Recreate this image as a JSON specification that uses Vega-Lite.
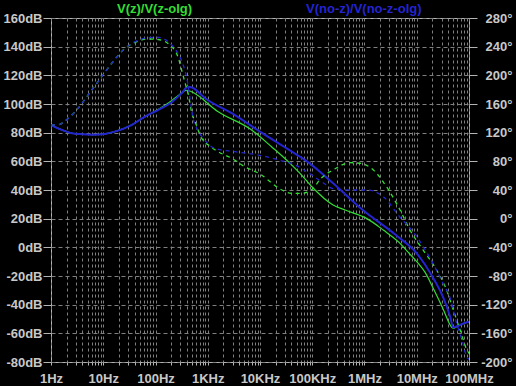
{
  "$schema": "https://vega.github.io/schema/vega-lite/v6.json",
  "width": 418,
  "height": 344,
  "autosize": "none",
  "padding": {"left": 51, "top": 18, "right": 47, "bottom": 24},
  "background": "#000000",
  "config": {
    "view": {"stroke": "#b4b4b4", "strokeWidth": 1},
    "font": "Liberation Sans",
    "axis": {
      "labelFont": "Liberation Sans",
      "labelFontSize": 13,
      "labelFontWeight": "bold",
      "labelColor": "#c8c8c8",
      "tickColor": "#b4b4b4",
      "domain": false,
      "title": null,
      "labelOverlap": false,
      "labelFlush": false
    }
  },
  "data": {
    "values": [
      {"series": "V(z)/V(z-olg)", "kind": "mag", "freq": 1, "value": 85.3},
      {"series": "V(z)/V(z-olg)", "kind": "mag", "freq": 1.58, "value": 82.1},
      {"series": "V(z)/V(z-olg)", "kind": "mag", "freq": 2.5, "value": 79.6},
      {"series": "V(z)/V(z-olg)", "kind": "mag", "freq": 3.9, "value": 78.9},
      {"series": "V(z)/V(z-olg)", "kind": "mag", "freq": 6.3, "value": 78.6},
      {"series": "V(z)/V(z-olg)", "kind": "mag", "freq": 10.7, "value": 79.1},
      {"series": "V(z)/V(z-olg)", "kind": "mag", "freq": 16.6, "value": 80.7},
      {"series": "V(z)/V(z-olg)", "kind": "mag", "freq": 34.7, "value": 85.3},
      {"series": "V(z)/V(z-olg)", "kind": "mag", "freq": 63, "value": 91.2},
      {"series": "V(z)/V(z-olg)", "kind": "mag", "freq": 112, "value": 96.2},
      {"series": "V(z)/V(z-olg)", "kind": "mag", "freq": 204, "value": 102.3},
      {"series": "V(z)/V(z-olg)", "kind": "mag", "freq": 282, "value": 106.3},
      {"series": "V(z)/V(z-olg)", "kind": "mag", "freq": 398, "value": 109.6},
      {"series": "V(z)/V(z-olg)", "kind": "mag", "freq": 490, "value": 108.5},
      {"series": "V(z)/V(z-olg)", "kind": "mag", "freq": 1585, "value": 94.6},
      {"series": "V(z)/V(z-olg)", "kind": "mag", "freq": 6918, "value": 81.9},
      {"series": "V(z)/V(z-olg)", "kind": "mag", "freq": 16600, "value": 70.2},
      {"series": "V(z)/V(z-olg)", "kind": "mag", "freq": 40700, "value": 57.4},
      {"series": "V(z)/V(z-olg)", "kind": "mag", "freq": 58300, "value": 51.6},
      {"series": "V(z)/V(z-olg)", "kind": "mag", "freq": 104700, "value": 41.2},
      {"series": "V(z)/V(z-olg)", "kind": "mag", "freq": 251000, "value": 29.5},
      {"series": "V(z)/V(z-olg)", "kind": "mag", "freq": 427000, "value": 26.0},
      {"series": "V(z)/V(z-olg)", "kind": "mag", "freq": 1096000, "value": 20.2},
      {"series": "V(z)/V(z-olg)", "kind": "mag", "freq": 2290000, "value": 12.1},
      {"series": "V(z)/V(z-olg)", "kind": "mag", "freq": 4790000, "value": 2.8},
      {"series": "V(z)/V(z-olg)", "kind": "mag", "freq": 6900000, "value": -3.5},
      {"series": "V(z)/V(z-olg)", "kind": "mag", "freq": 10000000, "value": -10.0},
      {"series": "V(z)/V(z-olg)", "kind": "mag", "freq": 14450000, "value": -17.5},
      {"series": "V(z)/V(z-olg)", "kind": "mag", "freq": 21000000, "value": -29.0},
      {"series": "V(z)/V(z-olg)", "kind": "mag", "freq": 32400000, "value": -43.5},
      {"series": "V(z)/V(z-olg)", "kind": "mag", "freq": 43600000, "value": -54.2},
      {"series": "V(z)/V(z-olg)", "kind": "mag", "freq": 50000000, "value": -56.6},
      {"series": "V(z)/V(z-olg)", "kind": "mag", "freq": 57500000, "value": -55.4},
      {"series": "V(z)/V(z-olg)", "kind": "mag", "freq": 91000000, "value": -52.3},
      {"series": "V(z)/V(z-olg)", "kind": "mag", "freq": 100000000, "value": -52.1},

      {"series": "V(no-z)/V(no-z-olg)", "kind": "mag", "freq": 1, "value": 85.3},
      {"series": "V(no-z)/V(no-z-olg)", "kind": "mag", "freq": 1.58, "value": 82.1},
      {"series": "V(no-z)/V(no-z-olg)", "kind": "mag", "freq": 2.5, "value": 79.6},
      {"series": "V(no-z)/V(no-z-olg)", "kind": "mag", "freq": 3.9, "value": 78.9},
      {"series": "V(no-z)/V(no-z-olg)", "kind": "mag", "freq": 6.3, "value": 78.6},
      {"series": "V(no-z)/V(no-z-olg)", "kind": "mag", "freq": 10.7, "value": 79.1},
      {"series": "V(no-z)/V(no-z-olg)", "kind": "mag", "freq": 16.6, "value": 80.7},
      {"series": "V(no-z)/V(no-z-olg)", "kind": "mag", "freq": 34.7, "value": 85.3},
      {"series": "V(no-z)/V(no-z-olg)", "kind": "mag", "freq": 63, "value": 91.2},
      {"series": "V(no-z)/V(no-z-olg)", "kind": "mag", "freq": 112, "value": 95.8},
      {"series": "V(no-z)/V(no-z-olg)", "kind": "mag", "freq": 204, "value": 101.2},
      {"series": "V(no-z)/V(no-z-olg)", "kind": "mag", "freq": 316, "value": 107.5},
      {"series": "V(no-z)/V(no-z-olg)", "kind": "mag", "freq": 417, "value": 112.0},
      {"series": "V(no-z)/V(no-z-olg)", "kind": "mag", "freq": 500, "value": 111.5},
      {"series": "V(no-z)/V(no-z-olg)", "kind": "mag", "freq": 891, "value": 104.0},
      {"series": "V(no-z)/V(no-z-olg)", "kind": "mag", "freq": 3311, "value": 92.3},
      {"series": "V(no-z)/V(no-z-olg)", "kind": "mag", "freq": 10700, "value": 80.0},
      {"series": "V(no-z)/V(no-z-olg)", "kind": "mag", "freq": 58300, "value": 63.2},
      {"series": "V(no-z)/V(no-z-olg)", "kind": "mag", "freq": 79000, "value": 60.0},
      {"series": "V(no-z)/V(no-z-olg)", "kind": "mag", "freq": 251000, "value": 44.7},
      {"series": "V(no-z)/V(no-z-olg)", "kind": "mag", "freq": 891000, "value": 26.5},
      {"series": "V(no-z)/V(no-z-olg)", "kind": "mag", "freq": 3980000, "value": 8.6},
      {"series": "V(no-z)/V(no-z-olg)", "kind": "mag", "freq": 10000000, "value": -4.2},
      {"series": "V(no-z)/V(no-z-olg)", "kind": "mag", "freq": 20000000, "value": -20.5},
      {"series": "V(no-z)/V(no-z-olg)", "kind": "mag", "freq": 31600000, "value": -34.4},
      {"series": "V(no-z)/V(no-z-olg)", "kind": "mag", "freq": 43600000, "value": -48.4},
      {"series": "V(no-z)/V(no-z-olg)", "kind": "mag", "freq": 50000000, "value": -56.0},
      {"series": "V(no-z)/V(no-z-olg)", "kind": "mag", "freq": 57500000, "value": -55.2},
      {"series": "V(no-z)/V(no-z-olg)", "kind": "mag", "freq": 91000000, "value": -52.3},
      {"series": "V(no-z)/V(no-z-olg)", "kind": "mag", "freq": 100000000, "value": -52.0},

      {"series": "V(z)/V(z-olg)", "kind": "phase", "freq": 1, "value": 131},
      {"series": "V(z)/V(z-olg)", "kind": "phase", "freq": 1.38, "value": 131},
      {"series": "V(z)/V(z-olg)", "kind": "phase", "freq": 1.86, "value": 136.3},
      {"series": "V(z)/V(z-olg)", "kind": "phase", "freq": 3.09, "value": 151.6},
      {"series": "V(z)/V(z-olg)", "kind": "phase", "freq": 5.13, "value": 172.6},
      {"series": "V(z)/V(z-olg)", "kind": "phase", "freq": 9.33, "value": 198.1},
      {"series": "V(z)/V(z-olg)", "kind": "phase", "freq": 14.5, "value": 216.8},
      {"series": "V(z)/V(z-olg)", "kind": "phase", "freq": 26.3, "value": 237.7},
      {"series": "V(z)/V(z-olg)", "kind": "phase", "freq": 40.7, "value": 246},
      {"series": "V(z)/V(z-olg)", "kind": "phase", "freq": 72.4, "value": 250.7},
      {"series": "V(z)/V(z-olg)", "kind": "phase", "freq": 112, "value": 250},
      {"series": "V(z)/V(z-olg)", "kind": "phase", "freq": 204, "value": 240},
      {"series": "V(z)/V(z-olg)", "kind": "phase", "freq": 275, "value": 223.8},
      {"series": "V(z)/V(z-olg)", "kind": "phase", "freq": 316, "value": 207.4},
      {"series": "V(z)/V(z-olg)", "kind": "phase", "freq": 363, "value": 191},
      {"series": "V(z)/V(z-olg)", "kind": "phase", "freq": 427, "value": 172.6},
      {"series": "V(z)/V(z-olg)", "kind": "phase", "freq": 490, "value": 149},
      {"series": "V(z)/V(z-olg)", "kind": "phase", "freq": 575, "value": 135.3},
      {"series": "V(z)/V(z-olg)", "kind": "phase", "freq": 767, "value": 112},
      {"series": "V(z)/V(z-olg)", "kind": "phase", "freq": 1023, "value": 102.8},
      {"series": "V(z)/V(z-olg)", "kind": "phase", "freq": 1585, "value": 93.4},
      {"series": "V(z)/V(z-olg)", "kind": "phase", "freq": 2884, "value": 84.2},
      {"series": "V(z)/V(z-olg)", "kind": "phase", "freq": 5129, "value": 72.5},
      {"series": "V(z)/V(z-olg)", "kind": "phase", "freq": 10700, "value": 61},
      {"series": "V(z)/V(z-olg)", "kind": "phase", "freq": 19500, "value": 46},
      {"series": "V(z)/V(z-olg)", "kind": "phase", "freq": 26300, "value": 40},
      {"series": "V(z)/V(z-olg)", "kind": "phase", "freq": 40700, "value": 35.4},
      {"series": "V(z)/V(z-olg)", "kind": "phase", "freq": 63100, "value": 35.4},
      {"series": "V(z)/V(z-olg)", "kind": "phase", "freq": 85100, "value": 37.7},
      {"series": "V(z)/V(z-olg)", "kind": "phase", "freq": 104700, "value": 42.4},
      {"series": "V(z)/V(z-olg)", "kind": "phase", "freq": 138000, "value": 54},
      {"series": "V(z)/V(z-olg)", "kind": "phase", "freq": 251000, "value": 68},
      {"series": "V(z)/V(z-olg)", "kind": "phase", "freq": 525000, "value": 78.1},
      {"series": "V(z)/V(z-olg)", "kind": "phase", "freq": 813000, "value": 77.3},
      {"series": "V(z)/V(z-olg)", "kind": "phase", "freq": 1480000, "value": 68},
      {"series": "V(z)/V(z-olg)", "kind": "phase", "freq": 2630000, "value": 44.6},
      {"series": "V(z)/V(z-olg)", "kind": "phase", "freq": 4790000, "value": 12.1},
      {"series": "V(z)/V(z-olg)", "kind": "phase", "freq": 7410000, "value": -15.8},
      {"series": "V(z)/V(z-olg)", "kind": "phase", "freq": 13200000, "value": -43.7},
      {"series": "V(z)/V(z-olg)", "kind": "phase", "freq": 24000000, "value": -71.6},
      {"series": "V(z)/V(z-olg)", "kind": "phase", "freq": 37200000, "value": -99.5},
      {"series": "V(z)/V(z-olg)", "kind": "phase", "freq": 50100000, "value": -127.4},
      {"series": "V(z)/V(z-olg)", "kind": "phase", "freq": 67600000, "value": -155.3},
      {"series": "V(z)/V(z-olg)", "kind": "phase", "freq": 91200000, "value": -183.2},
      {"series": "V(z)/V(z-olg)", "kind": "phase", "freq": 100000000, "value": -188},

      {"series": "V(no-z)/V(no-z-olg)", "kind": "phase", "freq": 1, "value": 131},
      {"series": "V(no-z)/V(no-z-olg)", "kind": "phase", "freq": 1.38, "value": 131},
      {"series": "V(no-z)/V(no-z-olg)", "kind": "phase", "freq": 1.86, "value": 136.3},
      {"series": "V(no-z)/V(no-z-olg)", "kind": "phase", "freq": 3.09, "value": 151.6},
      {"series": "V(no-z)/V(no-z-olg)", "kind": "phase", "freq": 5.13, "value": 172.6},
      {"series": "V(no-z)/V(no-z-olg)", "kind": "phase", "freq": 9.33, "value": 198.1},
      {"series": "V(no-z)/V(no-z-olg)", "kind": "phase", "freq": 14.5, "value": 216.8},
      {"series": "V(no-z)/V(no-z-olg)", "kind": "phase", "freq": 26.3, "value": 237.7},
      {"series": "V(no-z)/V(no-z-olg)", "kind": "phase", "freq": 40.7, "value": 247},
      {"series": "V(no-z)/V(no-z-olg)", "kind": "phase", "freq": 72.4, "value": 252.5},
      {"series": "V(no-z)/V(no-z-olg)", "kind": "phase", "freq": 112, "value": 253},
      {"series": "V(no-z)/V(no-z-olg)", "kind": "phase", "freq": 174, "value": 247},
      {"series": "V(no-z)/V(no-z-olg)", "kind": "phase", "freq": 257, "value": 233},
      {"series": "V(no-z)/V(no-z-olg)", "kind": "phase", "freq": 339, "value": 214.4},
      {"series": "V(no-z)/V(no-z-olg)", "kind": "phase", "freq": 398, "value": 195.9},
      {"series": "V(no-z)/V(no-z-olg)", "kind": "phase", "freq": 457, "value": 168},
      {"series": "V(no-z)/V(no-z-olg)", "kind": "phase", "freq": 525, "value": 140},
      {"series": "V(no-z)/V(no-z-olg)", "kind": "phase", "freq": 617, "value": 126},
      {"series": "V(no-z)/V(no-z-olg)", "kind": "phase", "freq": 822, "value": 112},
      {"series": "V(no-z)/V(no-z-olg)", "kind": "phase", "freq": 1380, "value": 98},
      {"series": "V(no-z)/V(no-z-olg)", "kind": "phase", "freq": 3311, "value": 93.4},
      {"series": "V(no-z)/V(no-z-olg)", "kind": "phase", "freq": 9333, "value": 88.8},
      {"series": "V(no-z)/V(no-z-olg)", "kind": "phase", "freq": 22400, "value": 82},
      {"series": "V(no-z)/V(no-z-olg)", "kind": "phase", "freq": 46800, "value": 75},
      {"series": "V(no-z)/V(no-z-olg)", "kind": "phase", "freq": 97700, "value": 61},
      {"series": "V(no-z)/V(no-z-olg)", "kind": "phase", "freq": 151000, "value": 51.6},
      {"series": "V(no-z)/V(no-z-olg)", "kind": "phase", "freq": 251000, "value": 42},
      {"series": "V(no-z)/V(no-z-olg)", "kind": "phase", "freq": 501000, "value": 40},
      {"series": "V(no-z)/V(no-z-olg)", "kind": "phase", "freq": 1096000, "value": 40},
      {"series": "V(no-z)/V(no-z-olg)", "kind": "phase", "freq": 2290000, "value": 30.7},
      {"series": "V(no-z)/V(no-z-olg)", "kind": "phase", "freq": 4790000, "value": 2},
      {"series": "V(no-z)/V(no-z-olg)", "kind": "phase", "freq": 8900000, "value": -20},
      {"series": "V(no-z)/V(no-z-olg)", "kind": "phase", "freq": 15800000, "value": -48},
      {"series": "V(no-z)/V(no-z-olg)", "kind": "phase", "freq": 22400000, "value": -68},
      {"series": "V(no-z)/V(no-z-olg)", "kind": "phase", "freq": 31600000, "value": -90},
      {"series": "V(no-z)/V(no-z-olg)", "kind": "phase", "freq": 43600000, "value": -111},
      {"series": "V(no-z)/V(no-z-olg)", "kind": "phase", "freq": 57500000, "value": -145},
      {"series": "V(no-z)/V(no-z-olg)", "kind": "phase", "freq": 74100000, "value": -170},
      {"series": "V(no-z)/V(no-z-olg)", "kind": "phase", "freq": 91000000, "value": -193},
      {"series": "V(no-z)/V(no-z-olg)", "kind": "phase", "freq": 100000000, "value": -196}
    ]
  },
  "layer": [
    {
      "transform": [{"filter": "datum.kind == 'mag'"}],
      "mark": {"type": "line", "interpolate": "monotone", "clip": true},
      "encoding": {
        "x": {
          "field": "freq", "type": "quantitative",
          "scale": {"type": "log", "domain": [1, 100000000], "nice": false},
          "axis": {
            "values": [1,2,3,4,5,6,7,8,9,10,20,30,40,50,60,70,80,90,100,200,300,400,500,600,700,800,900,1000,2000,3000,4000,5000,6000,7000,8000,9000,10000,20000,30000,40000,50000,60000,70000,80000,90000,100000,200000,300000,400000,500000,600000,700000,800000,900000,1000000,2000000,3000000,4000000,5000000,6000000,7000000,8000000,9000000,10000000,20000000,30000000,40000000,50000000,60000000,70000000,80000000,90000000,100000000],
            "labelExpr": "datum.value == 1 ? '1Hz' : datum.value == 10 ? '10Hz' : datum.value == 100 ? '100Hz' : datum.value == 1000 ? '1KHz' : datum.value == 10000 ? '10KHz' : datum.value == 100000 ? '100KHz' : datum.value == 1000000 ? '1MHz' : datum.value == 10000000 ? '10MHz' : datum.value == 100000000 ? '100MHz' : ''",
            "grid": true,
            "gridColor": "#808080",
            "gridDash": [3, 3],
            "gridWidth": 1,
            "tickSize": 3,
            "labelPadding": 7
          }
        },
        "y": {
          "field": "value", "type": "quantitative",
          "scale": {"domain": [-80, 160], "nice": false, "zero": false},
          "axis": {
            "orient": "left",
            "values": [-80,-60,-40,-20,0,20,40,60,80,100,120,140,160],
            "labelExpr": "datum.value + 'dB'",
            "grid": true,
            "gridColor": "#808080",
            "gridDash": [4, 3],
            "tickSize": 8,
            "labelPadding": 1
          }
        },
        "color": {
          "field": "series", "type": "nominal",
          "scale": {"domain": ["V(z)/V(z-olg)", "V(no-z)/V(no-z-olg)"], "range": ["#33dd33", "#2424d0"]},
          "legend": {
            "orient": "none",
            "legendX": 53,
            "legendY": -16,
            "direction": "horizontal",
            "columns": 2,
            "columnPadding": 100,
            "title": null,
            "symbolOpacity": 0,
            "symbolSize": 0,
            "symbolStrokeWidth": 0,
            "labelOffset": 0,
            "labelFont": "Liberation Sans",
            "labelFontSize": 13,
            "labelFontWeight": "bold",
            "labelLimit": 300,
            "encode": {
              "labels": {
                "update": {
                  "fill": {"signal": "datum.value == 'V(z)/V(z-olg)' ? '#33dd33' : '#2424d0'"}
                }
              }
            }
          }
        },
        "strokeWidth": {
          "field": "series", "type": "nominal",
          "scale": {"domain": ["V(z)/V(z-olg)", "V(no-z)/V(no-z-olg)"], "range": [1.2, 2]},
          "legend": null
        }
      }
    },
    {
      "transform": [{"filter": "datum.kind == 'phase'"}],
      "mark": {"type": "line", "interpolate": "monotone", "strokeDash": [4, 4], "strokeWidth": 1.3, "clip": true},
      "encoding": {
        "x": {"field": "freq", "type": "quantitative"},
        "y": {
          "field": "value", "type": "quantitative",
          "scale": {"domain": [-200, 280], "nice": false, "zero": false},
          "axis": {
            "orient": "right",
            "values": [-200,-160,-120,-80,-40,0,40,80,120,160,200,240,280],
            "labelExpr": "datum.value + '°'",
            "grid": false,
            "tickSize": 8,
            "labelAlign": "right",
            "labelPadding": 35
          }
        },
        "color": {"field": "series", "type": "nominal"}
      }
    }
  ],
  "resolve": {"scale": {"y": "independent"}}
}
